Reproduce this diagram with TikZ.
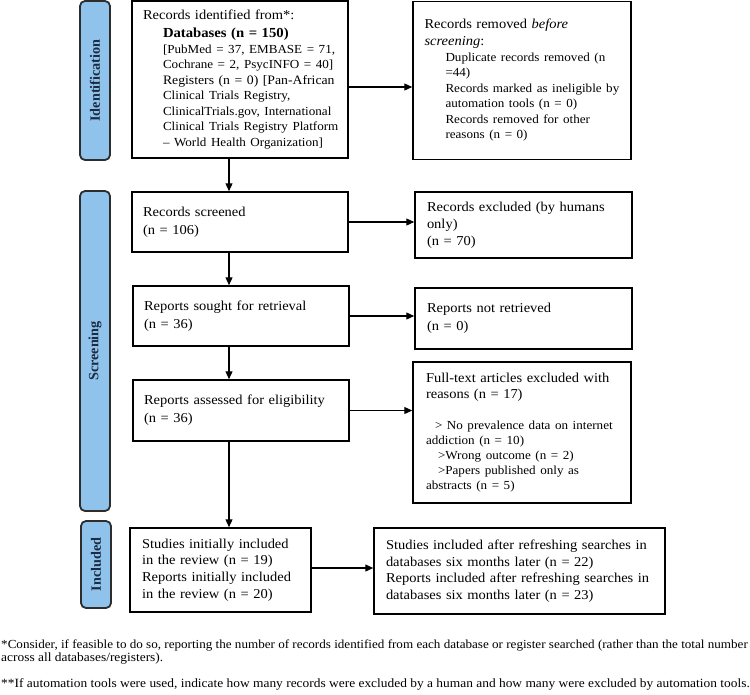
\documentclass[tikz,border=0pt]{standalone}
\usepackage{fontspec}
\setmainfont[FakeStretch=1.065]{Liberation Serif}
\newfontfamily\sidefont{Liberation Serif}
\usetikzlibrary{arrows.meta}
\definecolor{barblue}{RGB}{143,195,235}
\definecolor{barline}{RGB}{45,45,45}
\definecolor{bartext}{RGB}{28,42,66}
\newcommand\fsz[2]{\fontsize{#1}{#2}\selectfont}
\newcommand\ind[2]{\mbox{\hspace*{#1}#2}}
\begin{document}
\begin{tikzpicture}[x=1pt,y=-1pt,
  box/.style={draw=black, line width=1.5pt, inner xsep=11pt, inner ysep=0pt, align=left},
  side/.style={draw=barline, line width=1.8pt, fill=barblue, rounded corners=5pt,
    minimum width=30pt, inner sep=0pt, text=bartext, font=\sidefont\bfseries\fsz{14.2}{16}},
  arr/.style={-{Triangle[length=8pt,width=7pt]}, line width=1.2pt},
  foot/.style={anchor=base west, inner sep=0pt, font=\fsz{12.6}{13}}]
\useasboundingbox (0,0) rectangle (750,694);

% phase bars
\node[side, minimum height=159pt] (pid) at (95,80.5) {\rotatebox{90}{Identification}};
\node[side, minimum height=320pt] (psc) at (95,351) {\rotatebox{90}{Screening}};
\node[side, minimum height=87pt] (pin) at (96,564.5) {\rotatebox{90}{Included}};

% boxes
\node[box, minimum width=216pt, minimum height=157pt, text width=194pt, font=\fsz{13.6}{15.5}] (ident) at (240,79.5)
{\mbox{Records identified from*:}\\[2.5pt]
\ind{20pt}{\fsz{13.8}{15.5}\bfseries Databases (n = 150)}\\
\ind{20pt}{\fsz{12.3}{15.5}[PubMed = 37, EMBASE = 71,}\\
\ind{20pt}{\fsz{12.3}{15.5}Cochrane = 2, PsycINFO = 40]}\\
\ind{20pt}{\fsz{12.9}{15.5}Registers (n = 0) [Pan-African}\\
\ind{20pt}{\fsz{12.3}{15.5}Clinical Trials Registry,}\\
\ind{20pt}{\fsz{12.3}{15.5}ClinicalTrials.gov, International}\\
\ind{20pt}{\fsz{12.3}{15.5}Clinical Trials Registry Platform}\\
\ind{20pt}{\fsz{12.3}{15.5}– World Health Organization]}};

\node[box, minimum width=218pt, minimum height=158pt, text width=195pt, inner xsep=11.5pt, font=\fsz{13.6}{15.5}] (removed) at (522,80.5)
{\mbox{Records removed \textit{before}}\\[1.5pt]
\textit{screening}:\\
\ind{21pt}{\fsz{12.3}{15.5}Duplicate records removed (n}\\
\ind{21pt}{\fsz{12.3}{15.5}=44)}\\
\ind{21pt}{\fsz{12.3}{15.5}Records marked as ineligible by}\\
\ind{21pt}{\fsz{12.3}{15.5}automation tools (n = 0)}\\
\ind{21pt}{\fsz{12.3}{15.5}Records removed for other}\\
\ind{21pt}{\fsz{12.3}{15.5}reasons (n = 0)}};

\node[box, minimum width=216pt, minimum height=60pt, text width=194pt, font=\fsz{13.6}{18}] (screened) at (240,222)
{Records screened\\(n = 106)};

\node[box, minimum width=217pt, minimum height=66pt, text width=193pt, inner xsep=12pt, font=\fsz{13.6}{17.2}] (excluded) at (523.5,225)
{\mbox{Records excluded (by humans}\\only)\\(n = 70)};

\node[box, minimum width=216pt, minimum height=60pt, text width=194pt, font=\fsz{13.6}{18}] (sought) at (241,316)
{Reports sought for retrieval\\(n = 36)};

\node[box, minimum width=217pt, minimum height=61pt, text width=193pt, inner xsep=12pt, font=\fsz{13.6}{17.7}] (notret) at (523.5,318.5)
{Reports not retrieved\\(n = 0)};

\node[box, minimum width=216pt, minimum height=61pt, text width=194pt, font=\fsz{13.6}{17.7}] (assessed) at (241,410.5)
{\mbox{Reports assessed for eligibility}\\(n = 36)};

\node[box, minimum width=218pt, minimum height=141pt, text width=192pt, inner xsep=13pt, font=\fsz{13.6}{15}] (fulltext) at (522,432.5)
{\mbox{Full-text articles excluded with}\\[1.5pt]
reasons (n = 17)\\[16pt]
\ind{9pt}{\fsz{12.3}{15}> No prevalence data on internet}\\
{\fsz{12.3}{15}addiction (n = 10)}\\
\ind{12pt}{\fsz{12.3}{15}>Wrong outcome (n = 2)}\\
\ind{12pt}{\fsz{12.3}{15}>Papers published only as}\\
{\fsz{12.3}{15}abstracts (n = 5)}};

\node[box, minimum width=181pt, minimum height=84pt, text width=157pt, inner xsep=12pt, font=\fsz{13.6}{16.7}] (studies) at (220.5,570)
{Studies initially included\\in the review (n = 19)\\Reports initially included\\in the review (n = 20)};

\node[box, minimum width=291pt, minimum height=86pt, text width=267pt, inner xsep=12pt, font=\fsz{13.6}{16.5}] (refresh) at (519.5,571)
{\mbox{Studies included after refreshing searches in}\\databases six months later (n = 22)\\\mbox{Reports included after refreshing searches in}\\databases six months later (n = 23)};

% connectors
\coordinate (ax) at (229,0);
\draw[arr] ([yshift=-7.5pt]ident.east) -- ([yshift=-7.5pt]ident.east -| removed.west);
\draw[arr] (ident.south -| ax) -- (screened.north -| ax);
\draw[arr] (screened.east) -- (screened.east -| excluded.west);
\draw[arr] (screened.south -| ax) -- (sought.north -| ax);
\draw[arr] (sought.east) -- (sought.east -| notret.west);
\draw[arr] (sought.south -| ax) -- (assessed.north -| ax);
\draw[arr] (assessed.east) -- (assessed.east -| fulltext.west);
\draw[arr] (assessed.south -| ax) -- (studies.north -| ax);
\draw[arr] ([yshift=2pt]studies.east) -- ([yshift=2pt]studies.east -| refresh.west);

% footnotes
\node[foot, font=\fsz{12.3}{13}] (fn1) at (1,648) {*Consider, if feasible to do so, reporting the number of records identified from each database or register searched (rather than the total number};
\node[foot] (fn2) at (1,661) {across all databases/registers).};
\node[foot] (fn3) at (1,687) {**If automation tools were used, indicate how many records were excluded by a human and how many were excluded by automation tools.};
\end{tikzpicture}
\end{document}
